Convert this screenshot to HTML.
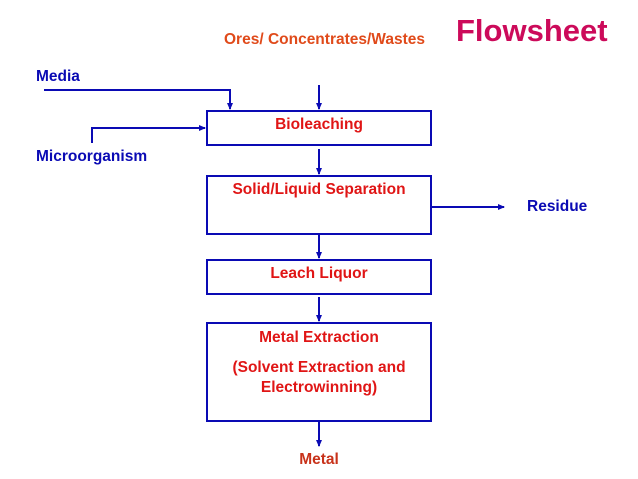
<!DOCTYPE html>
<html><head><style>
body{margin:0;width:638px;height:479px;background:#fff;overflow:hidden;font-family:"Liberation Sans",sans-serif;font-weight:bold}
.t{position:absolute;white-space:nowrap;font-size:15.5px;line-height:18px}
.b{color:#0a0ab4}.r{color:#e01515}
</style></head><body>
<svg width="638" height="479" style="position:absolute;left:0;top:0">
<defs><marker id="a" markerWidth="8" markerHeight="8" refX="6" refY="3" orient="auto" markerUnits="userSpaceOnUse"><path d="M0,0 L7,3 L0,6 Z" fill="#0a0ab4"/></marker></defs>
<g fill="none" stroke="#0a0ab4" stroke-width="2">
<rect x="207" y="111" width="224" height="34"/>
<rect x="207" y="176" width="224" height="58"/>
<rect x="207" y="260" width="224" height="34"/>
<rect x="207" y="323" width="224" height="98"/>
<path d="M44 90 H230 V109" marker-end="url(#a)"/>
<path d="M319 85 V109" marker-end="url(#a)"/>
<path d="M92 143 V128 H205" marker-end="url(#a)"/>
<path d="M319 149 V174" marker-end="url(#a)"/>
<path d="M431 207 H504" marker-end="url(#a)"/>
<path d="M319 234 V258" marker-end="url(#a)"/>
<path d="M319 297 V321" marker-end="url(#a)"/>
<path d="M319 421 V446" marker-end="url(#a)"/>
</g></svg>
<div class="t" style="left:456px;top:14px;font-size:31px;line-height:34px;color:#cc0a5a">Flowsheet</div>
<div class="t" style="left:224px;top:31px;color:#e04a1a">Ores/ Concentrates/Wastes</div>
<div class="t b" style="left:36px;top:68px">Media</div>
<div class="t b" style="left:36px;top:148px">Microorganism</div>
<div class="t b" style="left:527px;top:198px">Residue</div>
<div class="t r" style="left:207px;width:224px;text-align:center;top:116px">Bioleaching</div>
<div class="t r" style="left:207px;width:224px;text-align:center;top:181px">Solid/Liquid Separation</div>
<div class="t r" style="left:207px;width:224px;text-align:center;top:265px">Leach Liquor</div>
<div class="t r" style="left:207px;width:224px;text-align:center;top:329px">Metal Extraction</div>
<div class="t r" style="left:207px;width:224px;text-align:center;top:358px;line-height:20px">(Solvent Extraction and<br>Electrowinning)</div>
<div class="t" style="left:207px;width:224px;text-align:center;top:451px;color:#c8321a">Metal</div>
</body></html>
